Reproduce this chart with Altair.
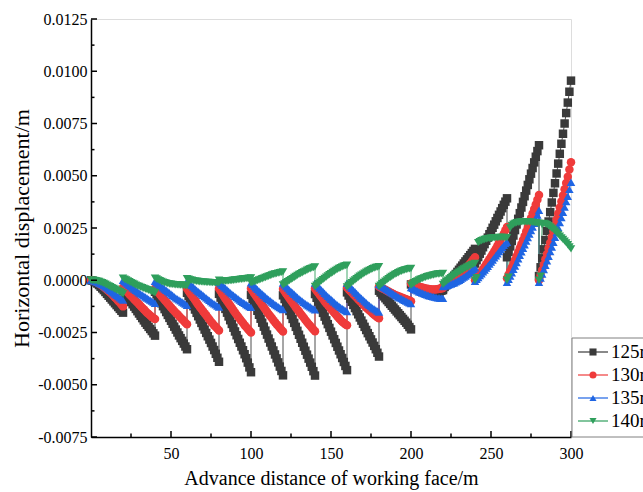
import altair as alt
import pandas as pd

FONT = "Liberation Serif"

series_names = ["125m", "130m", "135m", "140m"]
series_colors = ["#3a3a3a", "#ef3b3b", "#1f65e3", "#2f9f5c"]
series_shapes = ["square", "circle", "triangle-up", "triangle-down"]

x_tick_labels = [50, 100, 150, 200, 250, 300]
x_minor_ticks = [25, 75, 125, 175, 225, 275]
y_tick_labels = [-0.0075, -0.005, -0.0025, 0.0, 0.0025, 0.005, 0.0075, 0.01, 0.0125]
y_minor_ticks = [-0.00625, -0.00375, -0.00125, 0.00125, 0.00375, 0.00625, 0.00875, 0.01125]

# values in units of 1e-5 m; each face-advance step of 20 m, read at every metre
disp_125 = [
    [0, -2, -5, -10, -16, -23, -31, -39, -47, -56, -65, -74, -83, -92, -101, -110, -119, -128, -137, -146, -155],
    [-50, -60, -71, -82, -93, -104, -115, -126, -137, -148, -159, -170, -181, -192, -203, -213, -223, -233, -243, -254, -265],
    [-55, -68, -82, -96, -110, -124, -138, -152, -166, -180, -194, -208, -222, -236, -250, -264, -277, -290, -303, -317, -330],
    [-60, -76, -92, -108, -124, -140, -156, -172, -188, -204, -220, -236, -252, -268, -284, -300, -317, -334, -352, -371, -390],
    [-65, -83, -101, -119, -137, -155, -173, -191, -209, -227, -245, -263, -281, -299, -317, -335, -354, -373, -394, -417, -440],
    [-70, -89, -108, -127, -146, -165, -184, -203, -222, -241, -260, -279, -298, -317, -336, -355, -374, -393, -413, -434, -455],
    [-72, -90, -109, -128, -147, -166, -185, -204, -223, -242, -261, -280, -299, -318, -337, -356, -375, -394, -414, -435, -456],
    [-66, -84, -102, -120, -138, -156, -174, -192, -210, -228, -246, -264, -282, -300, -318, -336, -354, -372, -391, -410, -430],
    [-58, -73, -88, -103, -118, -133, -148, -163, -178, -193, -208, -223, -238, -253, -268, -283, -298, -314, -330, -347, -365],
    [-50, -59, -68, -77, -86, -95, -104, -113, -122, -131, -140, -149, -158, -167, -176, -185, -194, -203, -213, -224, -235],
    [-20, -24, -28, -32, -36, -40, -44, -47, -50, -53, -55, -57, -58, -59, -59, -58, -57, -55, -53, -50, -47],
    [-40, -32, -24, -15, -6, 3, 12, 21, 30, 40, 50, 60, 70, 80, 90, 100, 110, 120, 130, 140, 150],
    [80, 96, 111, 127, 142, 158, 173, 189, 204, 220, 235, 251, 266, 282, 298, 313, 329, 345, 361, 376, 392],
    [110, 136, 162, 188, 214, 240, 267, 294, 321, 348, 375, 402, 429, 456, 483, 510, 537, 564, 591, 618, 646],
    [20, 62, 105, 148, 192, 236, 281, 326, 372, 418, 464, 511, 558, 605, 653, 701, 750, 800, 850, 902, 955],
]
disp_130 = [
    [0, -2, -4, -7, -11, -15, -20, -26, -32, -38, -45, -52, -59, -66, -74, -82, -90, -99, -107, -116, -125],
    [-35, -43, -51, -59, -67, -75, -83, -91, -99, -107, -115, -123, -131, -139, -147, -155, -162, -169, -176, -181, -185],
    [-40, -49, -58, -67, -76, -85, -94, -103, -112, -121, -130, -139, -147, -155, -163, -171, -179, -187, -195, -203, -210],
    [-40, -51, -62, -73, -84, -95, -106, -117, -128, -138, -148, -158, -168, -178, -188, -198, -207, -216, -224, -232, -240],
    [-40, -52, -64, -76, -88, -99, -110, -121, -132, -143, -154, -165, -175, -185, -195, -205, -215, -224, -233, -242, -250],
    [-40, -52, -63, -74, -85, -96, -107, -118, -129, -140, -151, -161, -171, -181, -191, -201, -210, -219, -228, -237, -245],
    [-42, -53, -64, -75, -86, -97, -108, -119, -130, -140, -150, -160, -170, -180, -190, -200, -209, -218, -227, -236, -244],
    [-40, -50, -60, -70, -80, -90, -100, -110, -119, -128, -137, -146, -155, -164, -173, -182, -190, -198, -205, -210, -215],
    [-35, -43, -51, -59, -67, -75, -83, -91, -99, -107, -115, -123, -130, -137, -144, -151, -158, -165, -171, -177, -182],
    [-30, -34, -38, -42, -46, -50, -54, -58, -62, -66, -70, -73, -76, -79, -82, -85, -88, -91, -94, -97, -100],
    [-15, -18, -21, -24, -27, -30, -33, -35, -37, -39, -41, -42, -43, -44, -44, -44, -43, -42, -41, -39, -37],
    [-30, -26, -22, -17, -12, -7, -2, 4, 10, 16, 23, 30, 37, 45, 53, 62, 71, 80, 90, 100, 110],
    [0, 10, 20, 31, 42, 53, 64, 76, 88, 100, 112, 125, 138, 151, 165, 179, 193, 208, 223, 239, 255],
    [10, 27, 44, 61, 79, 97, 115, 134, 153, 172, 192, 212, 233, 254, 275, 297, 319, 341, 363, 385, 408],
    [0, 24, 49, 74, 100, 126, 153, 180, 207, 235, 263, 291, 319, 348, 377, 406, 435, 465, 495, 530, 565],
]
disp_135 = [
    [0, -1, -3, -6, -9, -13, -17, -21, -26, -31, -36, -42, -48, -54, -60, -66, -72, -78, -84, -90, -95],
    [0, -6, -12, -18, -24, -30, -36, -42, -48, -54, -60, -65, -70, -75, -80, -85, -90, -95, -100, -105, -110],
    [-5, -12, -18, -24, -30, -36, -42, -48, -54, -60, -66, -72, -78, -84, -89, -94, -99, -104, -109, -114, -120],
    [-5, -12, -19, -26, -33, -40, -47, -54, -60, -66, -72, -78, -84, -90, -96, -102, -108, -113, -118, -123, -128],
    [-10, -17, -24, -31, -38, -45, -52, -59, -65, -71, -77, -83, -89, -95, -101, -106, -111, -116, -121, -126, -130],
    [-12, -20, -28, -36, -44, -51, -58, -65, -72, -79, -86, -92, -98, -104, -110, -116, -121, -126, -131, -136, -140],
    [-14, -22, -30, -38, -46, -53, -60, -67, -74, -81, -88, -94, -100, -106, -112, -117, -122, -127, -132, -137, -142],
    [-14, -22, -30, -38, -46, -54, -62, -70, -77, -84, -91, -98, -105, -112, -118, -124, -130, -135, -140, -145, -150],
    [-15, -23, -31, -39, -47, -55, -63, -71, -79, -86, -93, -100, -107, -114, -120, -126, -132, -137, -142, -147, -152],
    [-20, -25, -30, -35, -40, -45, -50, -55, -60, -65, -70, -75, -80, -84, -88, -92, -96, -100, -104, -108, -112],
    [-35, -39, -43, -47, -51, -55, -58, -61, -64, -67, -70, -73, -75, -77, -79, -81, -83, -84, -85, -86, -87],
    [-30, -28, -26, -24, -21, -18, -15, -12, -8, -4, 0, 5, 10, 15, 20, 26, 32, 38, 45, 52, 60],
    [-5, 4, 13, 22, 31, 40, 49, 58, 67, 77, 87, 97, 107, 117, 127, 137, 147, 157, 167, 175, 182],
    [-10, 5, 20, 36, 52, 68, 85, 102, 119, 136, 153, 170, 187, 204, 221, 238, 255, 272, 290, 312, 335],
    [-10, 10, 30, 51, 72, 93, 115, 137, 159, 182, 205, 228, 252, 276, 300, 325, 350, 376, 402, 435, 469],
]
disp_140 = [
    [0, 0, -1, -2, -4, -6, -9, -12, -15, -19, -23, -27, -31, -35, -39, -43, -47, -51, -55, -60, -65],
    [10, 5, 1, -3, -7, -11, -15, -19, -23, -27, -30, -33, -36, -39, -42, -45, -48, -51, -54, -57, -60],
    [10, 6, 2, -2, -6, -9, -12, -14, -16, -18, -19, -20, -21, -22, -22, -23, -23, -24, -24, -25, -25],
    [8, 5, 2, 0, -2, -4, -5, -6, -7, -8, -9, -9, -10, -10, -10, -11, -11, -11, -12, -12, -12],
    [0, -2, -3, -4, -4, -4, -3, -2, -1, 0, 1, 2, 3, 4, 5, 6, 7, 8, 9, 10, 11],
    [-12, -10, -8, -5, -2, 1, 4, 7, 10, 13, 16, 19, 22, 25, 28, 30, 32, 34, 36, 38, 40],
    [-22, -17, -12, -7, -2, 3, 8, 13, 18, 23, 28, 32, 36, 40, 44, 48, 52, 55, 58, 61, 64],
    [-30, -23, -16, -9, -3, 3, 9, 15, 21, 27, 32, 37, 42, 47, 52, 56, 60, 64, 67, 70, 72],
    [-32, -25, -18, -11, -5, 1, 7, 13, 19, 24, 29, 34, 39, 43, 47, 51, 55, 58, 61, 63, 65],
    [-30, -23, -16, -10, -4, 2, 8, 13, 18, 23, 28, 32, 36, 40, 43, 46, 49, 51, 53, 55, 56],
    [-24, -18, -12, -7, -3, 1, 5, 8, 11, 14, 17, 19, 21, 23, 25, 27, 29, 30, 31, 32, 33],
    [-20, -13, -6, 0, 6, 12, 18, 24, 29, 34, 39, 44, 49, 54, 58, 62, 66, 70, 74, 77, 80],
    [0, 12, 180, 185, 189, 192, 195, 197, 199, 200, 201, 202, 203, 204, 204, 205, 205, 205, 205, 204, 204],
    [0, 15, 250, 262, 268, 272, 275, 277, 278, 279, 280, 280, 280, 279, 279, 278, 277, 276, 275, 274, 272],
    [0, 20, 265, 272, 270, 266, 261, 255, 249, 242, 235, 227, 219, 211, 203, 195, 187, 179, 170, 160, 150],
]

SEG = 20
rows = []
idx = 0
for name, segs in zip(series_names, [disp_125, disp_130, disp_135, disp_140]):
    assert len(segs) == 15
    for k, seg in enumerate(segs):
        assert len(seg) == SEG + 1, (name, k, len(seg))
        for i, v in enumerate(seg):
            rows.append({"series": name, "x": k * SEG + i, "y": v * 1e-5, "idx": idx})
            idx += 1
df = pd.DataFrame(rows)

x_scale = alt.Scale(domain=[0, 300], nice=False, zero=False)
y_scale = alt.Scale(domain=[-0.0075, 0.0125], nice=False, zero=False)

x_axis = alt.Axis(values=x_tick_labels, title="Advance distance of working face/m", ticks=False, grid=False,
                  labelFont=FONT, labelFontSize=16, labelColor="black", labelPadding=8, labelFlush=False,
                  titleFont=FONT, titleFontSize=20, titleFontWeight="normal", titleColor="black", titlePadding=7,
                  domainColor="black", domainWidth=1.5)
y_axis = alt.Axis(values=y_tick_labels, title="Horizontal displacement/m", ticks=False, grid=False,
                  labelExpr="replace(format(datum.value, '.4f'), '\u2212', '-')", labelFlush=False,
                  labelFont=FONT, labelFontSize=16, labelColor="black", labelPadding=4,
                  titleFont=FONT, titleFontSize=22, titleFontWeight="normal", titleColor="black", titlePadding=4,
                  domainColor="black", domainWidth=1.5)

X = alt.X("x:Q", scale=x_scale, axis=x_axis)
Y = alt.Y("y:Q", scale=y_scale, axis=y_axis)
cscale = alt.Scale(domain=series_names, range=series_colors)
sscale = alt.Scale(domain=series_names, range=series_shapes)

lines = alt.Chart(df).mark_line(strokeWidth=0.9).encode(
    x=X, y=Y, color=alt.Color("series:N", scale=cscale, legend=None), order="idx:Q")
points = alt.Chart(df).mark_point(filled=True, size=72, opacity=1).encode(
    x=X, y=Y, color=alt.Color("series:N", scale=cscale, legend=None),
    shape=alt.Shape("series:N", scale=sscale, legend=None))

xt_major = alt.Chart(pd.DataFrame({"x": x_tick_labels})).mark_rule(color="black", strokeWidth=1.5).encode(
    x=X, y=alt.value(418), y2=alt.value(412))
xt_minor = alt.Chart(pd.DataFrame({"x": x_minor_ticks})).mark_rule(color="black", strokeWidth=1.5).encode(
    x=X, y=alt.value(418), y2=alt.value(414.5))
yt_major = alt.Chart(pd.DataFrame({"y": y_tick_labels})).mark_rule(color="black", strokeWidth=1.5).encode(
    y=Y, x=alt.value(0), x2=alt.value(6))
yt_minor = alt.Chart(pd.DataFrame({"y": y_minor_ticks})).mark_rule(color="black", strokeWidth=1.5).encode(
    y=Y, x=alt.value(0), x2=alt.value(3.5))

# legend (drawn as a boxed key to the right of the plot, partly beyond the page edge)
leg_df = pd.DataFrame({"series": series_names, "ly": [333, 356, 379, 402]})
leg_box = alt.Chart(pd.DataFrame({"a": [0]})).mark_rect(fill="white", stroke="#808080", strokeWidth=1).encode(
    x=alt.value(481), x2=alt.value(640), y=alt.value(319), y2=alt.value(418))
leg_lines = alt.Chart(leg_df).mark_rule(strokeWidth=1.2).encode(
    x=alt.value(487), x2=alt.value(517), y=alt.Y("ly:Q", scale=None),
    color=alt.Color("series:N", scale=cscale, legend=None))
leg_pts = alt.Chart(leg_df).mark_point(filled=True, size=50, opacity=1).encode(
    x=alt.value(502), y=alt.Y("ly:Q", scale=None),
    color=alt.Color("series:N", scale=cscale, legend=None),
    shape=alt.Shape("series:N", scale=sscale, legend=None))
leg_txt = alt.Chart(leg_df).mark_text(align="left", baseline="middle", font=FONT, fontSize=19, color="black").encode(
    x=alt.value(520), y=alt.Y("ly:Q", scale=None), text="series:N")

chart = alt.layer(lines, points, xt_major, xt_minor, yt_major, yt_minor,
                  leg_box, leg_lines, leg_pts, leg_txt).properties(
    width=480, height=418,
    autosize=alt.AutoSizeParams(type="none"),
    padding={"left": 91, "top": 19, "right": 72, "bottom": 55},
    background="white",
).configure_view(stroke=None).configure(font=FONT)

chart.save("out.html", embed_options={"renderer": "svg", "actions": False})
